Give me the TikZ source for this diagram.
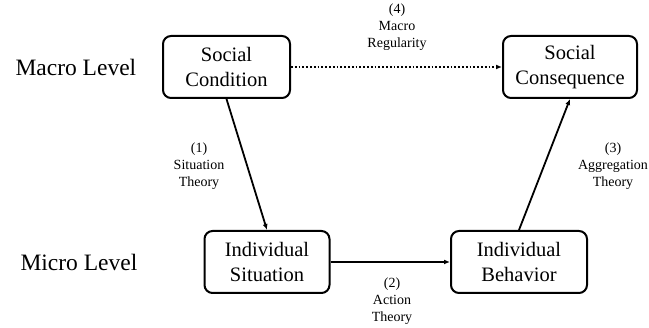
\documentclass[tikz,border=0pt]{standalone}
\usepackage{fontspec}
\setmainfont{Liberation Serif}
\usetikzlibrary{arrows.meta}
\begin{document}
\begin{tikzpicture}[x=1pt,y=-1pt,
  box/.style={draw,line width=2pt,rounded corners=8pt,align=center,
    font=\fontsize{20.5}{25.5}\selectfont,minimum height=62pt,inner sep=0pt},
  lbl/.style={align=center,font=\fontsize{14}{17}\selectfont},
  lvl/.style={anchor=base west,font=\fontsize{23.5}{28}\selectfont},
  arr/.style={-{Latex[length=6pt,width=5pt]},line width=1.8pt}]
      \useasboundingbox (0,0) rectangle (649,328);

      \coordinate (c1) at (226.5,67);
      \coordinate (c2) at (570,67);
      \coordinate (c3) at (267,262);
      \coordinate (c4) at (519,262);

      \node [lvl] (macro) at (12,76) {Macro Level};
      \node [lvl] (micro) at (17,271) {Micro Level};

      \node [box,minimum width=127pt] (cond) at (c1) {Social\\Condition};
      \node [box,minimum width=134pt] (cons) at (c2) {Social\\Consequence};
      \node [box,minimum width=125pt] (sit) at (c3) {Individual\\Situation};
      \node [box,minimum width=136pt] (beh) at (c4) {Individual\\Behavior};

      \draw [arr,dotted,line width=2pt] (cond) -- (cons);
      \draw [arr] (cond.south) -- (sit.north);
      \draw [arr] (sit) -- (beh);
      \draw [arr] (beh.north) -- (cons.south);

      \node [lbl] (l4) at (397,27) {(4)\\Macro\\Regularity};
      \node [lbl] (l1) at (199,166) {(1)\\Situation\\Theory};
      \node [lbl] (l2) at (392,301) {(2)\\Action\\Theory};
      \node [lbl] (l3) at (613,166) {(3)\\Aggregation\\Theory};
  \end{tikzpicture}
\end{document}
